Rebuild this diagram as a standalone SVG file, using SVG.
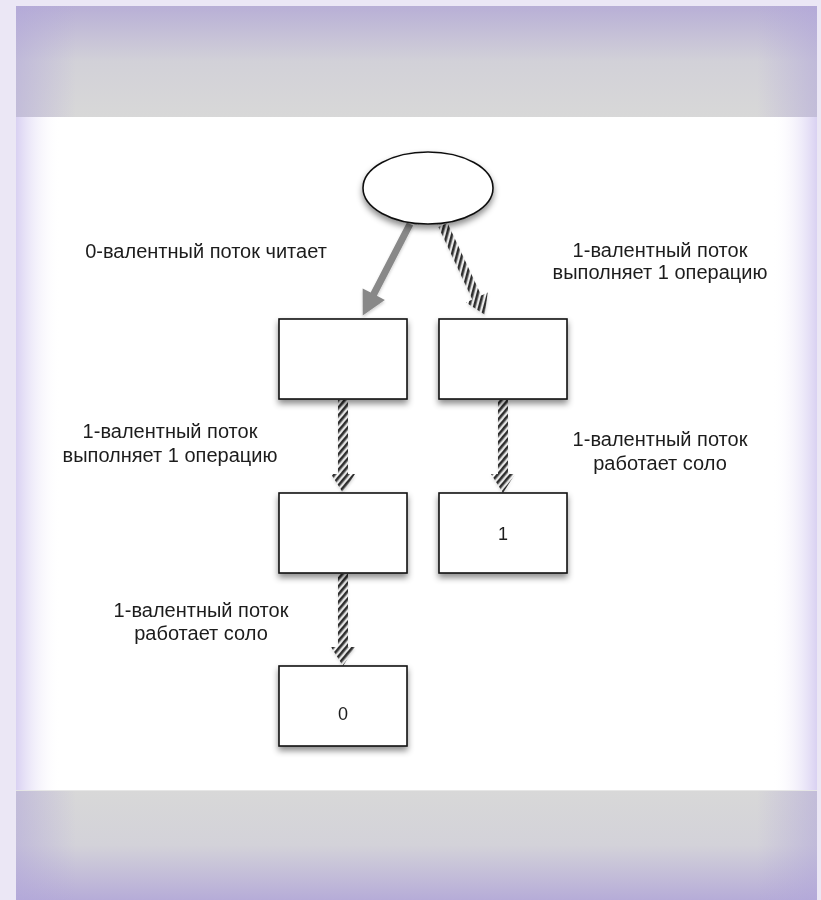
<svg xmlns="http://www.w3.org/2000/svg" width="821" height="900" viewBox="0 0 821 900">
  <style>
    .box { fill: #ffffff; stroke: #111111; stroke-width: 1.6; filter: url(#shadow); }
    .lbl { font-family: "Liberation Sans", Arial, sans-serif; font-size: 20px; fill: #1c1c1c; text-anchor: middle; }
    .num { font-family: "Liberation Sans", Arial, sans-serif; font-size: 18px; fill: #1c1c1c; text-anchor: middle; }
    .hatch { fill: url(#hatch); }
    .solid { fill: #888888; }
  </style>
  <defs>
    <filter id="shadow" x="-20%" y="-20%" width="140%" height="160%">
      <feDropShadow dx="0" dy="4" stdDeviation="3" flood-color="#000000" flood-opacity="0.45"/>
    </filter>
    <filter id="ashadow" x="-50%" y="-20%" width="200%" height="140%">
      <feDropShadow dx="0" dy="2" stdDeviation="1.5" flood-color="#000000" flood-opacity="0.2"/>
    </filter>
    <pattern id="hatch" patternUnits="userSpaceOnUse" width="5" height="5" patternTransform="rotate(40)">
      <rect x="0" y="0" width="2.6" height="5" fill="#2e2e2e"/>
    </pattern>
    <linearGradient id="topBand" x1="0" y1="0" x2="0" y2="1">
      <stop offset="0" stop-color="#b8afd6"/>
      <stop offset="0.5" stop-color="#d2d1d8"/>
      <stop offset="1" stop-color="#d8d8d8"/>
    </linearGradient>
    <linearGradient id="botBand" x1="0" y1="0" x2="0" y2="1">
      <stop offset="0" stop-color="#d8d8d8"/>
      <stop offset="0.5" stop-color="#d3d2d9"/>
      <stop offset="1" stop-color="#b6acd8"/>
    </linearGradient>
    <linearGradient id="sideL" x1="0" y1="0" x2="1" y2="0">
      <stop offset="0" stop-color="#b1a6da" stop-opacity="0.55"/>
      <stop offset="1" stop-color="#b1a6da" stop-opacity="0"/>
    </linearGradient>
    <linearGradient id="sideR" x1="1" y1="0" x2="0" y2="0">
      <stop offset="0" stop-color="#b1a6da" stop-opacity="0.55"/>
      <stop offset="1" stop-color="#b1a6da" stop-opacity="0"/>
    </linearGradient>
    <linearGradient id="whiteL" x1="0" y1="0" x2="1" y2="0">
      <stop offset="0" stop-color="#d9d1f2"/>
      <stop offset="1" stop-color="#ffffff" stop-opacity="0"/>
    </linearGradient>
    <linearGradient id="whiteR" x1="1" y1="0" x2="0" y2="0">
      <stop offset="0" stop-color="#d9d1f2"/>
      <stop offset="1" stop-color="#ffffff" stop-opacity="0"/>
    </linearGradient>
  </defs>

  <!-- background -->
  <g id="background">
    <rect x="0" y="0" width="821" height="900" fill="#ebe7f5"/>
    <rect x="16" y="6" width="801" height="111" fill="url(#topBand)"/>
    <rect x="16" y="6" width="60" height="111" fill="url(#sideL)"/>
    <rect x="757" y="6" width="60" height="111" fill="url(#sideR)"/>
    <rect x="16" y="117" width="801" height="673" fill="#ffffff"/>
    <rect x="16" y="117" width="45" height="673" fill="url(#whiteL)"/>
    <rect x="772" y="117" width="45" height="673" fill="url(#whiteR)"/>
    <rect x="16" y="790" width="801" height="110" fill="url(#botBand)"/>
    <rect x="16" y="790" width="60" height="110" fill="url(#sideL)"/>
    <rect x="757" y="790" width="60" height="110" fill="url(#sideR)"/>
    <line x1="16" y1="790.5" x2="817" y2="790.5" stroke="#e6e6e6" stroke-width="1"/>
  </g>

  <!-- connectors -->
  <g id="connectors" filter="url(#ashadow)">
    <!-- root -> left (solid, 0-valent reads) -->
    <polygon class="solid" transform="translate(410,224) rotate(27.3)" points="-3.5,0 3.5,0 3.5,79 12.5,79 0,103 -12.5,79 -3.5,79"/>
    <!-- root -> right (hatched) -->
    <polygon class="hatch" transform="translate(443,225) rotate(-25)" points="-5,0 5,0 5,80 12,80 0,99 -12,80 -5,80"/>
    <!-- left box -> middle left -->
    <polygon class="hatch" points="338,400 348,400 348,474 355,474 343,493 331,474 338,474"/>
    <!-- right box -> box 1 -->
    <polygon class="hatch" points="498,400 508,400 508,474 515,474 503,493 491,474 498,474"/>
    <!-- middle left -> box 0 -->
    <polygon class="hatch" points="338,574 348,574 348,647 355,647 343,666 331,647 338,647"/>
  </g>

  <!-- nodes -->
  <g id="root">
    <ellipse cx="428" cy="188" rx="65" ry="36" fill="#ffffff" stroke="#111111" stroke-width="1.6" filter="url(#shadow)"/>
  </g>
  <g id="nodeA">
    <rect class="box" x="279" y="319" width="128" height="80"/>
  </g>
  <g id="nodeB">
    <rect class="box" x="439" y="319" width="128" height="80"/>
  </g>
  <g id="nodeC">
    <rect class="box" x="279" y="493" width="128" height="80"/>
  </g>
  <g id="nodeD">
    <rect class="box" x="439" y="493" width="128" height="80"/>
    <text class="num" x="503" y="540">1</text>
  </g>
  <g id="nodeE">
    <rect class="box" x="279" y="666" width="128" height="80"/>
    <text class="num" x="343" y="720">0</text>
  </g>

  <!-- labels -->
  <g id="labels">
    <text class="lbl" x="206" y="258">0-валентный поток читает</text>
    <text class="lbl" x="660" y="257">1-валентный поток</text>
    <text class="lbl" x="660" y="279">выполняет 1 операцию</text>
    <text class="lbl" x="170" y="438">1-валентный поток</text>
    <text class="lbl" x="170" y="462">выполняет 1 операцию</text>
    <text class="lbl" x="660" y="446">1-валентный поток</text>
    <text class="lbl" x="660" y="470">работает соло</text>
    <text class="lbl" x="201" y="617">1-валентный поток</text>
    <text class="lbl" x="201" y="640">работает соло</text>
  </g>
</svg>
